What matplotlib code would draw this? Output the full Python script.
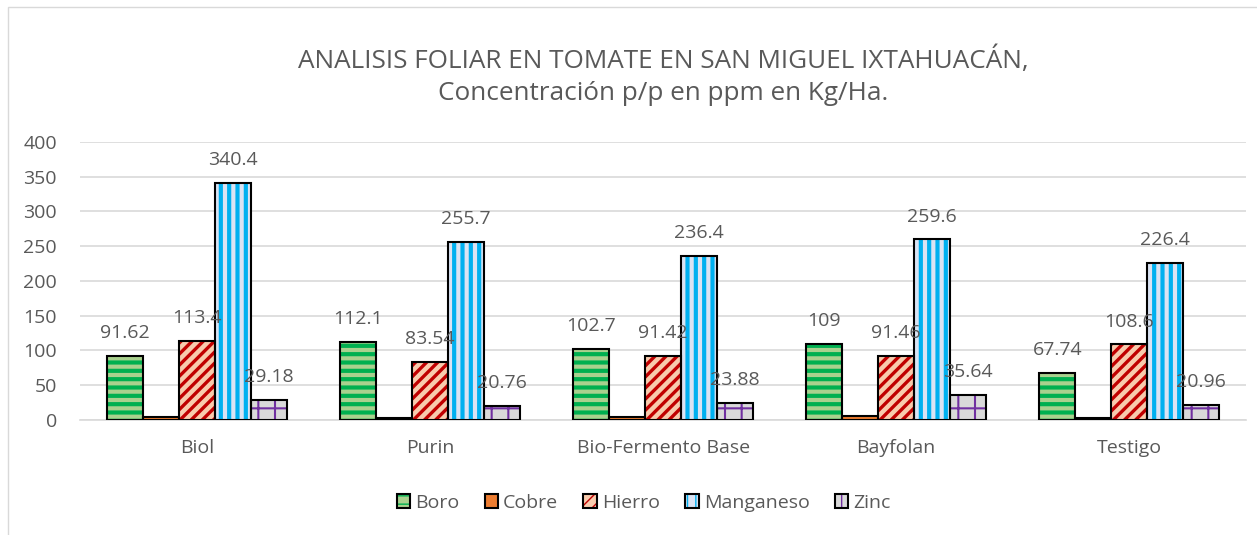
import numpy as np
import matplotlib.pyplot as plt
from matplotlib.patches import Patch, Rectangle
from matplotlib.legend_handler import HandlerTuple

plt.rcParams['font.family'] = ['Open Sans', 'DejaVu Sans']

categories = ['Biol', 'Purin', 'Bio-Fermento Base', 'Bayfolan', 'Testigo']
series = ['Boro', 'Cobre', 'Hierro', 'Manganeso', 'Zinc']
boro = [91.62, 112.1, 102.7, 109, 67.74]
cobre = [3.6, 2.6, 4.0, 6.2, 2.4]
hierro = [113.4, 83.54, 91.42, 91.46, 108.6]
manganeso = [340.4, 255.7, 236.4, 259.6, 226.4]
zinc = [29.18, 20.76, 23.88, 35.64, 20.96]
values = [boro, cobre, hierro, manganeso, zinc]
show_labels = [True, False, True, True, True]

# fill colour, hatch colour, hatch, hatch linewidth
styles = [
    ('#A9D18E', '#00B050', '--', 3.0),
    ('#ED7D31', '#ED7D31', '', 1.0),
    ('#F8CBAD', '#C00000', '///', 2.4),
    ('#DAE3F3', '#00B0F0', '||', 3.0),
    ('#D9D9D9', '#7030A0', '+', 1.5),
]

text_gray = '#595959'

fig = plt.figure(figsize=(12.57, 5.35), dpi=100)
ax = fig.add_axes([0.064, 0.215, 0.927, 0.52])

x = np.arange(len(categories))
w = 0.154
handles = []
for j, (name, vals) in enumerate(zip(series, values)):
    fc, hc, hatch, hlw = styles[j]
    pos = x + (j - 2) * w
    with plt.rc_context({'hatch.linewidth': hlw}):
        bars = ax.bar(pos, vals, w, color=fc, edgecolor=hc, linewidth=0, hatch=hatch, zorder=2)
        for b in bars:
            try:
                b.set_hatch_linewidth(hlw)
            except AttributeError:
                pass
    ax.bar(pos, vals, w, fill=False, edgecolor='black', linewidth=1.5, zorder=3)
    if show_labels[j]:
        for px, v in zip(pos, vals):
            ax.annotate(f'{v:g}', (px, v), xytext=(0, 16.5), textcoords='offset points',
                        ha='center', va='center', fontsize=14, color=text_gray, zorder=4)
    with plt.rc_context({'hatch.linewidth': hlw}):
        h1 = Patch(facecolor=fc, edgecolor=hc, hatch=hatch, linewidth=0)
    h2 = Patch(fill=False, edgecolor='black', linewidth=1.5)
    handles.append((h1, h2))

ax.set_xlim(-0.5, 4.5)
ax.set_ylim(0, 400)
ax.set_yticks(np.arange(0, 401, 50))
ax.set_xticks(x)
ax.set_xticklabels(categories)
ax.grid(axis='y', color='#D9D9D9', linewidth=1.2, zorder=0)
ax.set_axisbelow(True)
for s in ['top', 'right', 'left']:
    ax.spines[s].set_visible(False)
ax.spines['bottom'].set_color('#D9D9D9')
ax.spines['bottom'].set_linewidth(1.2)
ax.tick_params(axis='both', length=0, labelsize=14, labelcolor=text_gray)
ax.tick_params(axis='x', pad=14)
ax.tick_params(axis='y', pad=17)

ax.set_title('ANALISIS FOLIAR EN TOMATE EN SAN MIGUEL IXTAHUACÁN,\nConcentración p/p en ppm en Kg/Ha.',
             fontsize=18.8, color=text_gray, pad=30, linespacing=1.35)

fig.legend(handles, series, handler_map={tuple: HandlerTuple(ndivide=1)},
           loc='center', bbox_to_anchor=(0.512, 0.06), ncol=5, frameon=False,
           fontsize=14, labelcolor=text_gray, handlelength=0.7, handleheight=0.7,
           handletextpad=0.25, columnspacing=1.3)

fig.patches.append(Rectangle((0.006, -0.01), 1.0, 0.996, transform=fig.transFigure,
                             fill=False, edgecolor='#D9D9D9', linewidth=1))

fig.savefig('out.png', dpi=100)
